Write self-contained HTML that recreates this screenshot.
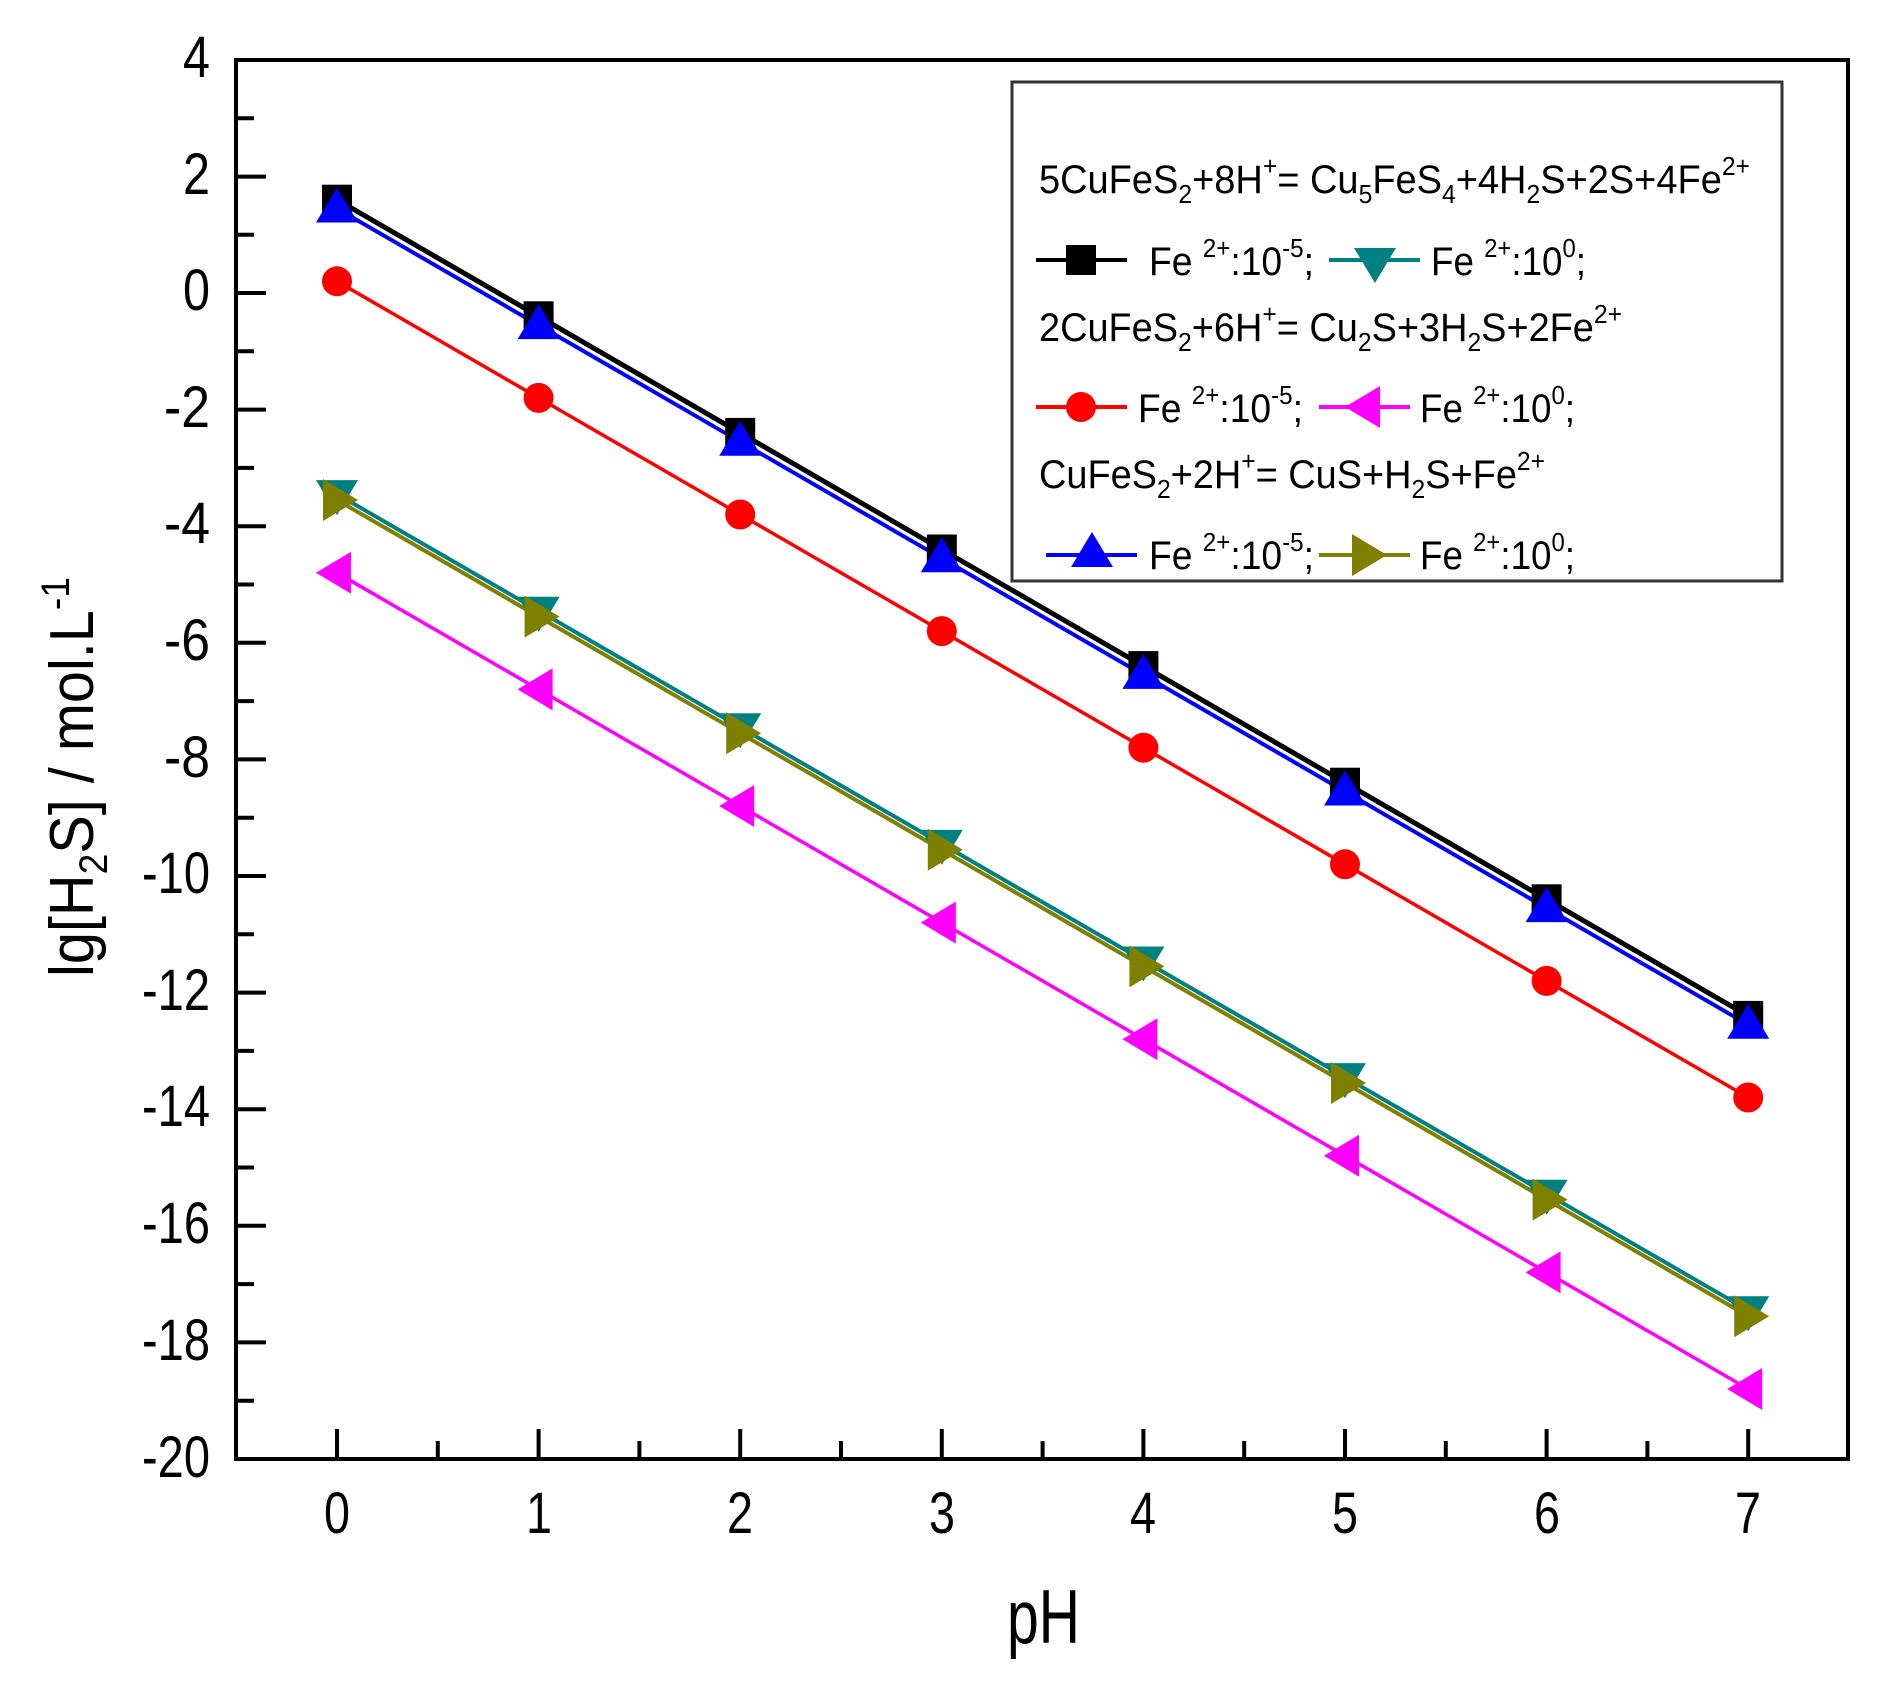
<!DOCTYPE html>
<html><head><meta charset="utf-8"><style>
html,body{margin:0;padding:0;background:#fff;}
svg{display:block;font-family:"Liberation Sans",sans-serif;}
</style></head><body>
<svg width="1886" height="1688" viewBox="0 0 1886 1688" xmlns="http://www.w3.org/2000/svg">
<defs>
<rect id="sq" x="-15" y="-15" width="30" height="30"/>
<circle id="ci" r="15"/>
<polygon id="ut" points="0,-21 21,14 -21,14"/>
<polygon id="dt" points="0,21 21,-14 -21,-14"/>
<polygon id="lt" points="-21,0 14,-21 14,21"/>
<polygon id="rt" points="21,0 -14,-21 -14,21"/>
</defs>
<!-- frame -->
<rect x="236" y="60" width="1612" height="1399" fill="none" stroke="#000" stroke-width="4"/>
<!-- y ticks -->
<g stroke="#000" stroke-width="4">
<line x1="236" y1="60" x2="266" y2="60"/><line x1="236" y1="118.3" x2="254" y2="118.3"/>
<line x1="236" y1="176.6" x2="266" y2="176.6"/><line x1="236" y1="234.7" x2="254" y2="234.7"/>
<line x1="236" y1="293" x2="266" y2="293"/><line x1="236" y1="351.3" x2="254" y2="351.3"/>
<line x1="236" y1="409.6" x2="266" y2="409.6"/><line x1="236" y1="467.9" x2="254" y2="467.9"/>
<line x1="236" y1="526.2" x2="266" y2="526.2"/><line x1="236" y1="584.5" x2="254" y2="584.5"/>
<line x1="236" y1="642.8" x2="266" y2="642.8"/><line x1="236" y1="701.1" x2="254" y2="701.1"/>
<line x1="236" y1="759.4" x2="266" y2="759.4"/><line x1="236" y1="817.7" x2="254" y2="817.7"/>
<line x1="236" y1="876" x2="266" y2="876"/><line x1="236" y1="934.3" x2="254" y2="934.3"/>
<line x1="236" y1="992.6" x2="266" y2="992.6"/><line x1="236" y1="1050.9" x2="254" y2="1050.9"/>
<line x1="236" y1="1109.2" x2="266" y2="1109.2"/><line x1="236" y1="1167.5" x2="254" y2="1167.5"/>
<line x1="236" y1="1225.8" x2="266" y2="1225.8"/><line x1="236" y1="1284.1" x2="254" y2="1284.1"/>
<line x1="236" y1="1342.4" x2="266" y2="1342.4"/><line x1="236" y1="1400.7" x2="254" y2="1400.7"/>
<!-- x ticks -->
<line x1="337" y1="1459" x2="337" y2="1429"/><line x1="437.8" y1="1459" x2="437.8" y2="1441"/>
<line x1="538.6" y1="1459" x2="538.6" y2="1429"/><line x1="639.4" y1="1459" x2="639.4" y2="1441"/>
<line x1="740.2" y1="1459" x2="740.2" y2="1429"/><line x1="841" y1="1459" x2="841" y2="1441"/>
<line x1="941.8" y1="1459" x2="941.8" y2="1429"/><line x1="1042.6" y1="1459" x2="1042.6" y2="1441"/>
<line x1="1143.4" y1="1459" x2="1143.4" y2="1429"/><line x1="1244.2" y1="1459" x2="1244.2" y2="1441"/>
<line x1="1345" y1="1459" x2="1345" y2="1429"/><line x1="1445.8" y1="1459" x2="1445.8" y2="1441"/>
<line x1="1546.6" y1="1459" x2="1546.6" y2="1429"/><line x1="1647.4" y1="1459" x2="1647.4" y2="1441"/>
<line x1="1748.2" y1="1459" x2="1748.2" y2="1429"/>
</g>
<!-- y labels -->
<g font-size="58" text-anchor="end" fill="#000">
<text x="210" y="77" textLength="27" lengthAdjust="spacingAndGlyphs">4</text>
<text x="210" y="194" textLength="27" lengthAdjust="spacingAndGlyphs">2</text>
<text x="210" y="310" textLength="27" lengthAdjust="spacingAndGlyphs">0</text>
<text x="210" y="427" textLength="46" lengthAdjust="spacingAndGlyphs">-2</text>
<text x="210" y="543" textLength="46" lengthAdjust="spacingAndGlyphs">-4</text>
<text x="210" y="660" textLength="46" lengthAdjust="spacingAndGlyphs">-6</text>
<text x="210" y="777" textLength="46" lengthAdjust="spacingAndGlyphs">-8</text>
<text x="210" y="893" textLength="68" lengthAdjust="spacingAndGlyphs">-10</text>
<text x="210" y="1010" textLength="68" lengthAdjust="spacingAndGlyphs">-12</text>
<text x="210" y="1126" textLength="68" lengthAdjust="spacingAndGlyphs">-14</text>
<text x="210" y="1243" textLength="68" lengthAdjust="spacingAndGlyphs">-16</text>
<text x="210" y="1360" textLength="68" lengthAdjust="spacingAndGlyphs">-18</text>
<text x="210" y="1477" textLength="68" lengthAdjust="spacingAndGlyphs">-20</text>
</g>
<!-- x labels -->
<g font-size="58" fill="#000">
<text x="324" y="1533" textLength="26" lengthAdjust="spacingAndGlyphs">0</text>
<text x="526" y="1533" textLength="26" lengthAdjust="spacingAndGlyphs">1</text>
<text x="727" y="1533" textLength="26" lengthAdjust="spacingAndGlyphs">2</text>
<text x="929" y="1533" textLength="26" lengthAdjust="spacingAndGlyphs">3</text>
<text x="1130" y="1533" textLength="26" lengthAdjust="spacingAndGlyphs">4</text>
<text x="1332" y="1533" textLength="26" lengthAdjust="spacingAndGlyphs">5</text>
<text x="1534" y="1533" textLength="26" lengthAdjust="spacingAndGlyphs">6</text>
<text x="1735" y="1533" textLength="26" lengthAdjust="spacingAndGlyphs">7</text>
</g>
<text x="1007" y="1643" font-size="76" textLength="73" lengthAdjust="spacingAndGlyphs">pH</text>
<text transform="translate(93,977) rotate(-90)" font-size="62" textLength="400" lengthAdjust="spacingAndGlyphs">lg[H<tspan font-size="40" dy="14">2</tspan><tspan dy="-14">S] / mol.L</tspan><tspan font-size="40" dy="-24">-1</tspan></text>

<!-- series -->
<g fill="none" stroke-width="3.5">
<polyline stroke="#ff00ff" points="337,572.8 538.6,689.4 740.2,806 941.8,922.6 1143.4,1039.2 1345,1155.8 1546.6,1272.4 1748.2,1389"/>
<polyline stroke="#ff0000" points="337,281.3 538.6,397.9 740.2,514.5 941.8,631.1 1143.4,747.7 1345,864.3 1546.6,980.9 1748.2,1097.5"/>
<polyline stroke="#008080" stroke-width="4" points="337,494.1 538.6,610.7 740.2,727.3 941.8,843.9 1143.4,960.5 1345,1077.1 1546.6,1193.7 1748.2,1310.3"/>
<polyline stroke="#808000" stroke-width="4" points="337,500 538.6,616.6 740.2,733.2 941.8,849.8 1143.4,966.4 1345,1083 1546.6,1199.6 1748.2,1316.2"/>
<polyline stroke="#000" stroke-width="5" points="337,199.7 538.6,316.3 740.2,432.9 941.8,549.5 1143.4,666.1 1345,782.7 1546.6,899.3 1748.2,1015.9"/>
<polyline stroke="#0000ff" stroke-width="4" points="337,208.5 538.6,325.1 740.2,441.7 941.8,558.3 1143.4,674.9 1345,791.5 1546.6,908.1 1748.2,1024.7"/>
</g>
<g fill="#ff00ff">
<use href="#lt" x="337" y="572.8"/><use href="#lt" x="538.6" y="689.4"/><use href="#lt" x="740.2" y="806"/><use href="#lt" x="941.8" y="922.6"/><use href="#lt" x="1143.4" y="1039.2"/><use href="#lt" x="1345" y="1155.8"/><use href="#lt" x="1546.6" y="1272.4"/><use href="#lt" x="1748.2" y="1389"/>
</g>
<g fill="#ff0000">
<use href="#ci" x="337" y="281.3"/><use href="#ci" x="538.6" y="397.9"/><use href="#ci" x="740.2" y="514.5"/><use href="#ci" x="941.8" y="631.1"/><use href="#ci" x="1143.4" y="747.7"/><use href="#ci" x="1345" y="864.3"/><use href="#ci" x="1546.6" y="980.9"/><use href="#ci" x="1748.2" y="1097.5"/>
</g>
<g fill="#008080">
<use href="#dt" x="337" y="494.1"/><use href="#dt" x="538.6" y="610.7"/><use href="#dt" x="740.2" y="727.3"/><use href="#dt" x="941.8" y="843.9"/><use href="#dt" x="1143.4" y="960.5"/><use href="#dt" x="1345" y="1077.1"/><use href="#dt" x="1546.6" y="1193.7"/><use href="#dt" x="1748.2" y="1310.3"/>
</g>
<g fill="#808000">
<use href="#rt" x="337" y="500"/><use href="#rt" x="538.6" y="616.6"/><use href="#rt" x="740.2" y="733.2"/><use href="#rt" x="941.8" y="849.8"/><use href="#rt" x="1143.4" y="966.4"/><use href="#rt" x="1345" y="1083"/><use href="#rt" x="1546.6" y="1199.6"/><use href="#rt" x="1748.2" y="1316.2"/>
</g>
<g fill="#000">
<use href="#sq" x="337" y="199.7"/><use href="#sq" x="538.6" y="316.3"/><use href="#sq" x="740.2" y="432.9"/><use href="#sq" x="941.8" y="549.5"/><use href="#sq" x="1143.4" y="666.1"/><use href="#sq" x="1345" y="782.7"/><use href="#sq" x="1546.6" y="899.3"/><use href="#sq" x="1748.2" y="1015.9"/>
</g>
<g fill="#0000ff">
<use href="#ut" x="337" y="208.5"/><use href="#ut" x="538.6" y="325.1"/><use href="#ut" x="740.2" y="441.7"/><use href="#ut" x="941.8" y="558.3"/><use href="#ut" x="1143.4" y="674.9"/><use href="#ut" x="1345" y="791.5"/><use href="#ut" x="1546.6" y="908.1"/><use href="#ut" x="1748.2" y="1024.7"/>
</g>

<!-- legend -->
<rect x="1012" y="82" width="770" height="499" fill="#fff" stroke="#333" stroke-width="3"/>
<g font-size="40" fill="#000">
<text x="1039" y="193" textLength="711" lengthAdjust="spacingAndGlyphs">5CuFeS<tspan font-size="26" dy="10">2</tspan><tspan dy="-10">+8H</tspan><tspan font-size="26" dy="-18">+</tspan><tspan dy="18">= Cu</tspan><tspan font-size="26" dy="10">5</tspan><tspan dy="-10">FeS</tspan><tspan font-size="26" dy="10">4</tspan><tspan dy="-10">+4H</tspan><tspan font-size="26" dy="10">2</tspan><tspan dy="-10">S+2S+4Fe</tspan><tspan font-size="26" dy="-18">2+</tspan></text>
<text x="1039" y="341" textLength="583" lengthAdjust="spacingAndGlyphs">2CuFeS<tspan font-size="26" dy="10">2</tspan><tspan dy="-10">+6H</tspan><tspan font-size="26" dy="-18">+</tspan><tspan dy="18">= Cu</tspan><tspan font-size="26" dy="10">2</tspan><tspan dy="-10">S+3H</tspan><tspan font-size="26" dy="10">2</tspan><tspan dy="-10">S+2Fe</tspan><tspan font-size="26" dy="-18">2+</tspan></text>
<text x="1039" y="488" textLength="506" lengthAdjust="spacingAndGlyphs">CuFeS<tspan font-size="26" dy="10">2</tspan><tspan dy="-10">+2H</tspan><tspan font-size="26" dy="-18">+</tspan><tspan dy="18">= CuS+H</tspan><tspan font-size="26" dy="10">2</tspan><tspan dy="-10">S+Fe</tspan><tspan font-size="26" dy="-18">2+</tspan></text>

<text x="1149" y="275" textLength="165" lengthAdjust="spacingAndGlyphs">Fe <tspan font-size="26" dy="-18">2+</tspan><tspan dy="18">:10</tspan><tspan font-size="26" dy="-18">-5</tspan><tspan dy="18">;</tspan></text>
<text x="1431" y="275" textLength="155" lengthAdjust="spacingAndGlyphs">Fe <tspan font-size="26" dy="-18">2+</tspan><tspan dy="18">:10</tspan><tspan font-size="26" dy="-18">0</tspan><tspan dy="18">;</tspan></text>
<text x="1138" y="422" textLength="165" lengthAdjust="spacingAndGlyphs">Fe <tspan font-size="26" dy="-18">2+</tspan><tspan dy="18">:10</tspan><tspan font-size="26" dy="-18">-5</tspan><tspan dy="18">;</tspan></text>
<text x="1420" y="422" textLength="155" lengthAdjust="spacingAndGlyphs">Fe <tspan font-size="26" dy="-18">2+</tspan><tspan dy="18">:10</tspan><tspan font-size="26" dy="-18">0</tspan><tspan dy="18">;</tspan></text>
<text x="1149" y="569" textLength="165" lengthAdjust="spacingAndGlyphs">Fe <tspan font-size="26" dy="-18">2+</tspan><tspan dy="18">:10</tspan><tspan font-size="26" dy="-18">-5</tspan><tspan dy="18">;</tspan></text>
<text x="1420" y="569" textLength="155" lengthAdjust="spacingAndGlyphs">Fe <tspan font-size="26" dy="-18">2+</tspan><tspan dy="18">:10</tspan><tspan font-size="26" dy="-18">0</tspan><tspan dy="18">;</tspan></text>
</g>
<g stroke-width="4">
<line x1="1036" y1="260" x2="1127" y2="260" stroke="#000"/>
<line x1="1329" y1="260" x2="1420" y2="260" stroke="#008080"/>
<line x1="1036" y1="407" x2="1127" y2="407" stroke="#ff0000"/>
<line x1="1319" y1="407" x2="1410" y2="407" stroke="#ff00ff"/>
<line x1="1046" y1="555" x2="1137" y2="555" stroke="#0000ff"/>
<line x1="1319" y1="555" x2="1410" y2="555" stroke="#808000"/>
</g>
<use href="#sq" x="1081" y="260" fill="#000"/>
<use href="#dt" x="1375" y="262" fill="#008080"/>
<use href="#ci" x="1081" y="407" fill="#ff0000"/>
<use href="#lt" x="1366" y="407" fill="#ff00ff"/>
<use href="#ut" x="1092" y="553" fill="#0000ff"/>
<use href="#rt" x="1366" y="555" fill="#808000"/>
</svg>
</body></html>
